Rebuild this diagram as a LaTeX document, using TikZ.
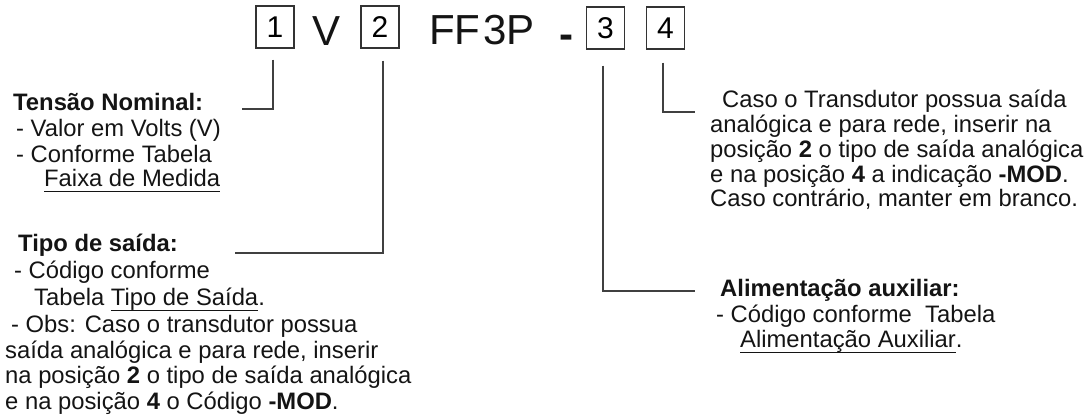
\documentclass[tikz,border=0pt]{standalone}
\usepackage{fontspec}
\setmainfont{Liberation Sans}
\newsavebox\ulbox
\newcommand\myul[1]{\sbox\ulbox{#1}\rlap{\rule[-5.2pt]{\wd\ulbox}{1.2pt}}\usebox\ulbox}
\begin{document}
\begin{tikzpicture}[x=1pt,y=-1pt,
  digitbox/.style={draw=black!80, line width=1.3pt, minimum width=38pt, minimum height=42pt, inner sep=0pt, font=\fontsize{30}{30}\selectfont},
  bigtxt/.style={inner sep=0pt, anchor=base west, text=black!92, font=\fontsize{42}{42}\selectfont},
  txt/.style={inner sep=0pt, anchor=base west, text=black!92, font=\fontsize{23.8}{25}\selectfont},
  conn/.style={draw=black!75, line width=1.2pt}]
\useasboundingbox (0,0) rectangle (1086,419);

% code row
\node[digitbox] (b1) at (275,27) {1};
\node[bigtxt, anchor=base] (v) at (327,46) {V};
\node[digitbox] (b2) at (380,27) {2};
\node[bigtxt] (ff) at (429,45) {FF\hspace{3pt}3P};
\node[bigtxt, anchor=base] (dash) at (566,49) {\textbf{-}};
\node[digitbox] (b3) at (605.5,28) {3};
\node[digitbox] (b4) at (665.5,28) {4};

% connector ends
\coordinate (e1) at (242,109);
\coordinate (e2) at (235,253);
\coordinate (e3) at (695,291);
\coordinate (e4) at (695,112);

\draw[conn] ([xshift=-2pt,yshift=-11pt]b1.south) |- (e1);
\draw[conn] ([xshift=3pt,yshift=-12pt]b2.south) |- (e2);
\draw[conn] ([xshift=-2.5pt,yshift=-16pt]b3.south) |- (e3);
\draw[conn] ([xshift=-2.5pt,yshift=-13pt]b4.south) |- (e4);

% left block 1
\node[txt] (t1a) at (13,111) {\textbf{Tensão Nominal:}};
\node[txt] (t1b) at (16,137) {- Valor em Volts (V)};
\node[txt] (t1c) at (16,163) {- Conforme Tabela};
\node[txt] (t1d) at (44,187) {\myul{Faixa de Medida}};

% left block 2
\node[txt] (t2a) at (18,252) {\textbf{Tipo de saída:}};
\node[txt] (t2b) at (14,279) {- Código conforme};
\node[txt] (t2c) at (34,306) {Tabela \myul{Tipo de Saída}.};
\node[txt] (t2d) at (11,332) {- Obs: Caso o transdutor possua};
\node[txt] (t2e) at (5,358) {saída analógica e para rede, inserir};
\node[txt] (t2f) at (5,383) {na posição \textbf{2} o tipo de saída analógica};
\node[txt] (t2g) at (5,409) {e na posição \textbf{4} o Código \textbf{-MOD}.};

% right block 1
\node[txt] (r1a) at (722,108) {Caso o Transdutor possua saída};
\node[txt] (r1b) at (710,133) {analógica e para rede, inserir na};
\node[txt] (r1c) at (710,158) {posição \textbf{2} o tipo de saída analógica};
\node[txt] (r1d) at (710,183) {e na posição \textbf{4} a indicação \textbf{-MOD}.};
\node[txt] (r1e) at (710,207) {Caso contrário, manter em branco.};

% right block 2
\node[txt] (r2a) at (720,297) {\textbf{Alimentação auxiliar:}};
\node[txt] (r2b) at (716,323) {- Código conforme\ \ Tabela};
\node[txt] (r2c) at (740,348) {\myul{Alimentação Auxiliar}.};
\end{tikzpicture}
\end{document}
